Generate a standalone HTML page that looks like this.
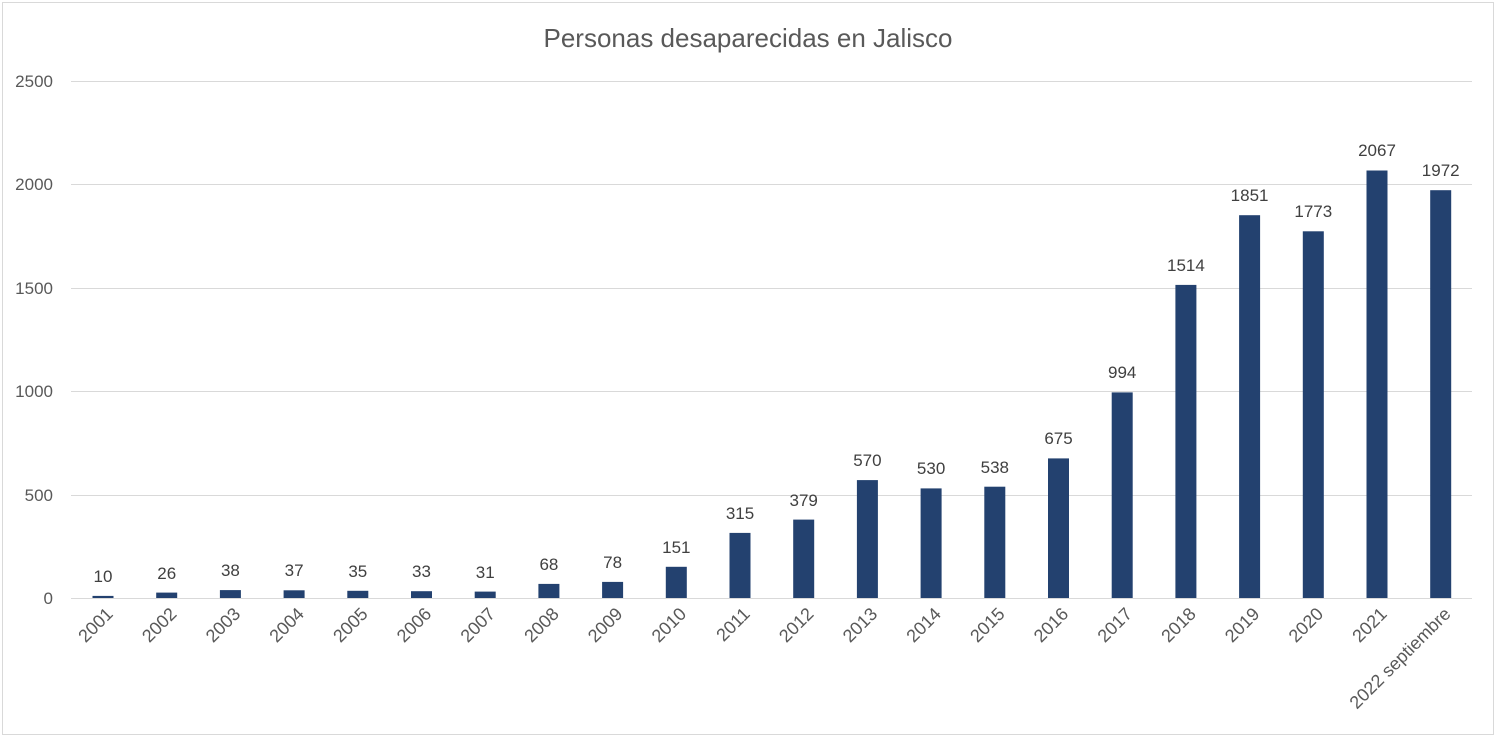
<!DOCTYPE html>
<html><head><meta charset="utf-8"><style>
html,body{margin:0;padding:0;background:#fff;}
svg{display:block;font-family:"Liberation Sans",sans-serif;}
.v{font-size:17px;fill:#404040;text-anchor:middle;}
.a{font-size:17px;fill:#595959;}
.x{font-size:18px;fill:#595959;text-anchor:end;}
</style></head><body>
<svg width="1500" height="739" viewBox="0 0 1500 739">
<rect x="2.5" y="2.5" width="1491" height="732" fill="#fff" stroke="#d9d9d9" stroke-width="1"/>
<text x="748" y="47" text-anchor="middle" font-size="26" fill="#595959">Personas desaparecidas en Jalisco</text>
<g stroke="#d9d9d9" stroke-width="1">
<line x1="71" x2="1472" y1="81.5" y2="81.5"/>
<line x1="71" x2="1472" y1="184.5" y2="184.5"/>
<line x1="71" x2="1472" y1="288.5" y2="288.5"/>
<line x1="71" x2="1472" y1="391.5" y2="391.5"/>
<line x1="71" x2="1472" y1="495.5" y2="495.5"/>
<line x1="71" x2="1472" y1="598.5" y2="598.5"/>
</g>
<g class="a" text-anchor="end">
<text x="53" y="87">2500</text>
<text x="53" y="190">2000</text>
<text x="53" y="294">1500</text>
<text x="53" y="397">1000</text>
<text x="53" y="501">500</text>
<text x="53" y="604">0</text>
</g>
<g fill="#23416f">
<rect x="92.5" y="595.9" width="21" height="2.1"/>
<rect x="156.2" y="592.6" width="21" height="5.4"/>
<rect x="219.9" y="590.1" width="21" height="7.9"/>
<rect x="283.6" y="590.3" width="21" height="7.7"/>
<rect x="347.3" y="590.8" width="21" height="7.2"/>
<rect x="411" y="591.2" width="21" height="6.8"/>
<rect x="474.7" y="591.6" width="21" height="6.4"/>
<rect x="538.4" y="583.9" width="21" height="14.1"/>
<rect x="602.1" y="581.9" width="21" height="16.1"/>
<rect x="665.8" y="566.8" width="21" height="31.2"/>
<rect x="729.5" y="532.9" width="21" height="65.1"/>
<rect x="793.2" y="519.6" width="21" height="78.4"/>
<rect x="856.9" y="480.1" width="21" height="117.9"/>
<rect x="920.6" y="488.4" width="21" height="109.6"/>
<rect x="984.3" y="486.7" width="21" height="111.3"/>
<rect x="1048" y="458.4" width="21" height="139.6"/>
<rect x="1111.7" y="392.4" width="21" height="205.6"/>
<rect x="1175.4" y="284.9" width="21" height="313.1"/>
<rect x="1239.1" y="215.2" width="21" height="382.8"/>
<rect x="1302.8" y="231.3" width="21" height="366.7"/>
<rect x="1366.5" y="170.5" width="21" height="427.5"/>
<rect x="1430.2" y="190.2" width="21" height="407.8"/>
</g>
<g class="v">
<text x="103" y="582">10</text>
<text x="166.7" y="579">26</text>
<text x="230.4" y="576">38</text>
<text x="294.1" y="576">37</text>
<text x="357.8" y="577">35</text>
<text x="421.5" y="577">33</text>
<text x="485.2" y="578">31</text>
<text x="548.9" y="570">68</text>
<text x="612.6" y="568">78</text>
<text x="676.3" y="553">151</text>
<text x="740" y="519">315</text>
<text x="803.7" y="506">379</text>
<text x="867.4" y="466">570</text>
<text x="931.1" y="474">530</text>
<text x="994.8" y="473">538</text>
<text x="1058.5" y="444">675</text>
<text x="1122.2" y="378">994</text>
<text x="1185.9" y="271">1514</text>
<text x="1249.6" y="201">1851</text>
<text x="1313.3" y="217">1773</text>
<text x="1377" y="156">2067</text>
<text x="1440.7" y="176">1972</text>
</g>
<g class="x">
<text transform="translate(114,615) rotate(-45)">2001</text>
<text transform="translate(177.7,615) rotate(-45)">2002</text>
<text transform="translate(241.4,615) rotate(-45)">2003</text>
<text transform="translate(305.1,615) rotate(-45)">2004</text>
<text transform="translate(368.8,615) rotate(-45)">2005</text>
<text transform="translate(432.5,615) rotate(-45)">2006</text>
<text transform="translate(496.2,615) rotate(-45)">2007</text>
<text transform="translate(559.9,615) rotate(-45)">2008</text>
<text transform="translate(623.6,615) rotate(-45)">2009</text>
<text transform="translate(687.3,615) rotate(-45)">2010</text>
<text transform="translate(751,615) rotate(-45)">2011</text>
<text transform="translate(814.7,615) rotate(-45)">2012</text>
<text transform="translate(878.4,615) rotate(-45)">2013</text>
<text transform="translate(942.1,615) rotate(-45)">2014</text>
<text transform="translate(1005.8,615) rotate(-45)">2015</text>
<text transform="translate(1069.5,615) rotate(-45)">2016</text>
<text transform="translate(1133.2,615) rotate(-45)">2017</text>
<text transform="translate(1196.9,615) rotate(-45)">2018</text>
<text transform="translate(1260.6,615) rotate(-45)">2019</text>
<text transform="translate(1324.3,615) rotate(-45)">2020</text>
<text transform="translate(1388,615) rotate(-45)">2021</text>
<text transform="translate(1451.7,615) rotate(-45)">2022 septiembre</text>
</g>
</svg>
</body></html>
